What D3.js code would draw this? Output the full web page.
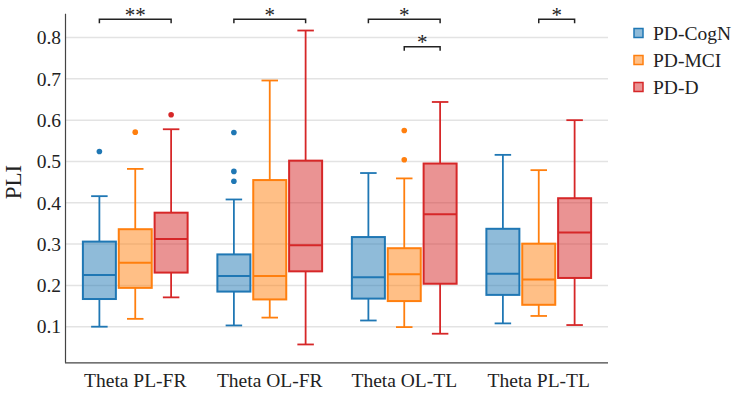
<!DOCTYPE html>
<html>
<head>
<meta charset="utf-8">
<script src="https://cdn.jsdelivr.net/npm/d3@7"></script>
<style>
  body { margin: 0; background: #fff; }
  svg text { font-family: "Liberation Serif", "Times New Roman", serif !important; fill: #222; }
</style>
</head>
<body>
<div id="vis"></div>
<script>
// categories and series
var categories = ["Theta PL-FR", "Theta OL-FR", "Theta OL-TL", "Theta PL-TL"];
var groups = ["PD-CogN", "PD-MCI", "PD-D"];
var yTicks = [0.1, 0.2, 0.3, 0.4, 0.5, 0.6, 0.7, 0.8];

// box stats per category: [lower whisker, q1, median, q3, upper whisker]
var cognStats = [
    [0.100, 0.167, 0.225, 0.306, 0.416],
    [0.103, 0.185, 0.223, 0.275, 0.408],
    [0.115, 0.168, 0.220, 0.317, 0.472],
    [0.108, 0.177, 0.228, 0.337, 0.516]
];
var mciStats = [
    [0.119, 0.194, 0.255, 0.336, 0.482],
    [0.122, 0.166, 0.223, 0.455, 0.696],
    [0.099, 0.162, 0.227, 0.290, 0.459],
    [0.126, 0.153, 0.214, 0.301, 0.479]
];
var dStats = [
    [0.171, 0.231, 0.312, 0.376, 0.578],
    [0.057, 0.234, 0.297, 0.502, 0.817],
    [0.083, 0.204, 0.372, 0.495, 0.644],
    [0.104, 0.218, 0.328, 0.411, 0.600]
];

// outliers per category
var cognOutliers = [[0.524], [0.570, 0.476, 0.452], [], []];
var mciOutliers = [[0.571], [], [0.575, 0.504], []];
var dOutliers = [[0.613], [], [], []];

// significance: [category, from group, to group, label, row]
var sigMarks = [
    [0, 0, 2, "**", 0],
    [1, 0, 2, "*", 0],
    [2, 0, 2, "*", 0],
    [2, 1, 2, "*", 1],
    [3, 1, 2, "*", 0]
];

var colors = ["#1f77b4", "#ff7f0e", "#d62728"];
var statsByGroup = [cognStats, mciStats, dStats];
var outliersByGroup = [cognOutliers, mciOutliers, dOutliers];

var width = 737, height = 394;
var serif = '"Liberation Serif", "Times New Roman", serif';
var svg = d3.select("#vis").append("svg")
    .attr("width", width)
    .attr("height", height)
    .style("font-family", serif);

var x = d3.scaleBand().domain(categories).range([68, 606]);
var bw = x.bandwidth();
var xSub = d3.scaleBand().domain(groups).range([bw * 0.1, bw * 0.9]);
var boxW = xSub.bandwidth() * 0.92;
var capW = boxW / 2;

var y = d3.scaleLinear().domain([0.0138, 0.8587]).range([362.3, 13.3]);

// grid
svg.append("g").selectAll("line")
    .data(yTicks).enter().append("line")
    .attr("x1", 65).attr("x2", 608)
    .attr("y1", d => y(d)).attr("y2", d => y(d))
    .attr("stroke", "#e3e3e3").attr("stroke-width", 1.5);

// axes
var yAxis = svg.append("g")
    .attr("transform", "translate(65,0)")
    .call(d3.axisLeft(y).tickValues(yTicks).tickSize(0).tickPadding(4).tickFormat(d3.format(".1f")))
    .attr("font-family", serif);
yAxis.select(".domain").attr("stroke", "#444").attr("stroke-width", 1.2);
yAxis.selectAll("text").style("font-size", "19.5px").style("font-family", serif);

var xAxis = svg.append("g")
    .attr("transform", "translate(0,362.3)")
    .call(d3.axisBottom(x).tickSize(0).tickPadding(11))
    .attr("font-family", serif);
xAxis.select(".domain").attr("d", "M65,0.5H608").attr("stroke", "#444").attr("stroke-width", 1.2);
xAxis.selectAll("text").style("font-size", "19.5px").style("font-family", serif);

svg.append("text")
    .attr("transform", "translate(21," + y(0.45) + ") rotate(-90)")
    .attr("text-anchor", "middle")
    .style("font-size", "23px")
    .text("PLI");

// boxes
groups.forEach(function(g, gi) {
    var col = colors[gi];
    var stats = statsByGroup[gi];
    var layer = svg.append("g").attr("class", "series-" + gi);
    categories.forEach(function(c, ci) {
        var s = stats[ci];
        var cx = x(c) + xSub(g) + xSub.bandwidth() / 2;
        // whiskers
        layer.append("line")
            .attr("x1", cx).attr("x2", cx)
            .attr("y1", y(s[3])).attr("y2", y(s[4]))
            .attr("stroke", col).attr("stroke-width", 1.8);
        layer.append("line")
            .attr("x1", cx).attr("x2", cx)
            .attr("y1", y(s[0])).attr("y2", y(s[1]))
            .attr("stroke", col).attr("stroke-width", 1.8);
        [s[0], s[4]].forEach(function(v) {
            layer.append("line")
                .attr("x1", cx - capW / 2).attr("x2", cx + capW / 2)
                .attr("y1", y(v)).attr("y2", y(v))
                .attr("stroke", col).attr("stroke-width", 1.8);
        });
        layer.append("rect")
            .attr("x", cx - boxW / 2)
            .attr("y", y(s[3]))
            .attr("width", boxW)
            .attr("height", y(s[1]) - y(s[3]))
            .attr("fill", col).attr("fill-opacity", 0.5)
            .attr("stroke", col).attr("stroke-width", 2);
        layer.append("line")
            .attr("x1", cx - boxW / 2).attr("x2", cx + boxW / 2)
            .attr("y1", y(s[2])).attr("y2", y(s[2]))
            .attr("stroke", col).attr("stroke-width", 2);
        layer.selectAll("circle.o" + ci)
            .data(outliersByGroup[gi][ci]).enter().append("circle")
            .attr("cx", cx).attr("cy", d => y(d)).attr("r", 2.8)
            .attr("fill", col);
    });
});

// significance brackets
var rowY = [19.3, 46.7];
sigMarks.forEach(function(m) {
    var c = categories[m[0]];
    var x1 = x(c) + xSub(groups[m[1]]) + xSub.bandwidth() / 2;
    var x2 = x(c) + xSub(groups[m[2]]) + xSub.bandwidth() / 2;
    var yy = rowY[m[4]];
    svg.append("path")
        .attr("d", "M" + x1 + "," + (yy + 4) + "V" + yy + "H" + x2 + "V" + (yy + 4))
        .attr("fill", "none").attr("stroke", "#222").attr("stroke-width", 1.5);
    svg.append("text")
        .attr("x", (x1 + x2) / 2).attr("y", yy + 2.5)
        .attr("text-anchor", "middle")
        .style("font-size", "21px")
        .text(m[3]);
});

// legend
var legend = svg.append("g").attr("transform", "translate(634,33)");
groups.forEach(function(g, gi) {
    var row = legend.append("g").attr("transform", "translate(0," + gi * 27 + ")");
    row.append("rect")
        .attr("x", 0).attr("y", -4.5).attr("width", 9).attr("height", 9)
        .attr("fill", colors[gi]).attr("fill-opacity", 0.5)
        .attr("stroke", colors[gi]).attr("stroke-width", 1.5);
    row.append("text")
        .attr("x", 19).attr("y", 7)
        .style("font-size", "19.5px")
        .text(g);
});
</script>
</body>
</html>
